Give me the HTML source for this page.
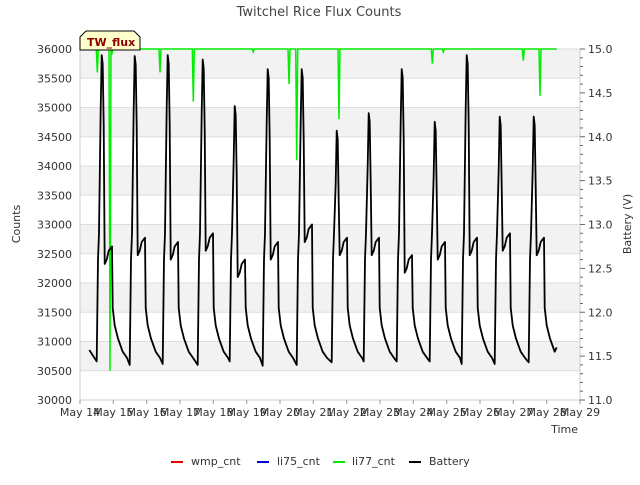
<!DOCTYPE html>
<html><head><meta charset="utf-8"><style>
body{margin:0;background:#fff;font-family:"Liberation Sans","DejaVu Sans",sans-serif}
svg text{font-family:"DejaVu Sans","Liberation Sans",sans-serif}
</style></head><body>
<svg id="c" width="640" height="480" viewBox="0 0 640 480">
<text x="319" y="16" text-anchor="middle" font-size="13" fill="#444">Twitchel Rice Flux Counts</text>
<g id="bands"></g>
<g id="axes"></g>
<g id="series"></g>
<g>
<path d="M80,50 L80,37 L86,31 L134,31 L140,37 L140,50 Z" fill="#ffffcc" stroke="#000" stroke-width="1"/>
<text x="87" y="46" font-size="11" font-weight="bold" fill="#8b0000">TW_flux</text></g>
<text x="20" y="224" font-size="11" fill="#333" text-anchor="middle" transform="rotate(-90 20 224)">Counts</text>
<text x="631" y="224" font-size="11" fill="#333" text-anchor="middle" transform="rotate(-90 631 224)">Battery (V)</text>
<text x="578" y="433" font-size="11" fill="#333" text-anchor="end">Time</text>
<g>
<g><line x1="171" y1="462" x2="183" y2="462" stroke="#e00" stroke-width="2"/><text x="191" y="465" font-size="11" fill="#333">wmp_cnt</text></g>
<g><line x1="257" y1="462" x2="269" y2="462" stroke="#00c" stroke-width="2"/><text x="277" y="465" font-size="11" fill="#333">li75_cnt</text></g>
<g><line x1="333" y1="462" x2="345" y2="462" stroke="#0e0" stroke-width="2"/><text x="352" y="465" font-size="11" fill="#333">li77_cnt</text></g>
<g><line x1="409" y1="462" x2="421" y2="462" stroke="#000" stroke-width="2"/><text x="429" y="465" font-size="11" fill="#333">Battery</text></g>
</g>
</svg>
<script>
const xTicks=["May 14","May 15","May 16","May 17","May 18","May 19","May 20","May 21","May 22","May 23","May 24","May 25","May 26","May 27","May 28","May 29"];
const yTicks=[30000,30500,31000,31500,32000,32500,33000,33500,34000,34500,35000,35500,36000];
const y2Ticks=[11.0,11.5,12.0,12.5,13.0,13.5,14.0,14.5,15.0];
const peakDay=[0.66,1.65,2.64,3.69,4.65,5.64,6.66,7.71,8.67,9.66,10.65,11.61,12.6,13.62];
const peakV=[14.93,14.92,14.93,14.88,14.35,14.77,14.77,14.07,14.27,14.77,14.17,14.93,14.23,14.23];
const plateauV=[12.7,12.8,12.75,12.85,12.55,12.75,12.95,12.8,12.8,12.6,12.75,12.8,12.85,12.8];
const minV=[11.44,11.4,11.41,11.4,11.44,11.39,11.4,11.43,11.44,11.44,11.44,11.41,11.41,11.43];
const dipDay=[0.52,0.9,0.95,2.4,3.4,5.2,6.27,6.5,7.77,10.57,10.9,13.3,13.8];
const dipCnt=[35600,30500,35900,35600,35100,35950,35400,34100,34800,35750,35950,35800,35200];
const SVGNS="http://www.w3.org/2000/svg";
const X0=80,X1=580,Y0=400,Y1=49;
const xs=d=>X0+(X1-X0)*d/15;
const ys=c=>Y0-(Y0-Y1)*(c-30000)/6000;
const yv=v=>Y0-(Y0-Y1)*(v-11)/4;
function mk(tag,attrs,parent){const e=document.createElementNS(SVGNS,tag);for(const k in attrs)e.setAttribute(k,attrs[k]);parent.appendChild(e);return e;}
const bands=document.getElementById('bands'),axes=document.getElementById('axes'),series=document.getElementById('series');
for(let i=0;i<yTicks.length-1;i++){
  const r=mk('rect',{x:X0,y:ys(yTicks[i+1]),width:X1-X0,height:ys(yTicks[i])-ys(yTicks[i+1]),fill:(i%2==1)?'#f2f2f2':'#fff'},bands);
  
  
}
yTicks.forEach(t=>{
  const l=mk('line',{x1:X0,x2:X1,y1:ys(t),y2:ys(t),stroke:'#ddd','stroke-width':1},bands);
  
  
  const tx=mk('text',{x:X0-8,y:ys(t)+4,'font-size':11,fill:'#333','text-anchor':'end'},axes);
  tx.textContent=t;
  
  
});
mk('line',{x1:X0,x2:X0,y1:Y1,y2:Y0,stroke:'#ccc'},axes);
mk('line',{x1:X0,x2:X1,y1:Y0,y2:Y0,stroke:'#ccc'},axes);
mk('line',{x1:X1,x2:X1,y1:Y1,y2:Y0,stroke:'#ccc'},axes);
xTicks.forEach((t,i)=>{
  const x=xs(i);
  mk('line',{x1:x,x2:x,y1:Y0,y2:Y0+4,stroke:'#999'},axes);
  const tx=mk('text',{x:x,y:Y0+16,'font-size':11,fill:'#333','text-anchor':'middle'},axes);
  tx.textContent=t;
  
  
});
for(let v=11;v<=15.001;v+=0.1){mk('line',{x1:X1,x2:X1+(Math.abs(v*2-Math.round(v*2))<0.01?5:3),y1:yv(v),y2:yv(v),stroke:'#666'},axes);}
y2Ticks.forEach(t=>{
  const tx=mk('text',{x:X1+8,y:yv(t)+4,'font-size':11,fill:'#333'},axes);
  tx.textContent=t.toFixed(1);
  
  
});
// li77 green
let gp=[[0.25,36000]];
dipDay.forEach((d,i)=>{gp.push([d-0.03,36000],[d,dipCnt[i]],[d+0.03,36000]);});
gp.push([14.3,36000]);
const g=mk('path',{d:gp.map((p,i)=>(i?'L':'M')+xs(p[0]).toFixed(1)+','+ys(p[1]).toFixed(1)).join(''),fill:'none',stroke:'#00ee00','stroke-width':1.5},series);


// battery
let bp=[[0.28,11.57]];
peakDay.forEach((P,i)=>{
  const pl=plateauV[i], pk=peakV[i];
  bp.push([P-0.16,minV[i]],[P-0.12,12.6],[P-0.09,12.9],[P-0.04,pk-0.6],[P-0.01,pk],[P+0.02,pk-0.1],[P+0.05,pk-0.8],[P+0.08,pl-0.15],[P+0.14,pl-0.1],[P+0.2,pl],[P+0.3,pl+0.05],[P+0.32,12.05],[P+0.38,11.85],[P+0.48,11.7],[P+0.62,11.55],[P+0.75,11.48]);
});
bp.push([14.3,11.6]);
bp=bp.filter(p=>p[0]<=14.3&&p[0]>=0.28);
const b=mk('path',{d:bp.map((p,i)=>(i?'L':'M')+xs(p[0]).toFixed(1)+','+yv(p[1]).toFixed(1)).join(''),fill:'none',stroke:'#000','stroke-width':1.8,'stroke-linejoin':'round'},series);


</script>
</body></html>
